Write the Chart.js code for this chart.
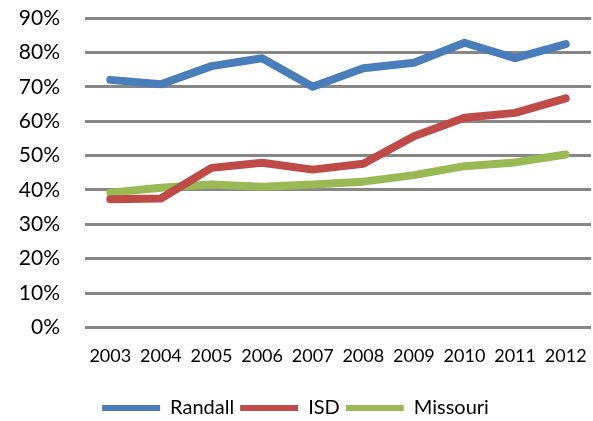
<!DOCTYPE html>
<html>
<head>
<meta charset="utf-8">
<script src="https://cdn.jsdelivr.net/npm/chart.js@4/dist/chart.umd.min.js"></script>
<style>
  html, body { margin: 0; padding: 0; background: #fff; }
  #wrap { width: 593px; height: 421px; position: relative; }
</style>
</head>
<body>
<div id="wrap"><canvas id="chart"></canvas></div>
<script>
const years = ["2003","2004","2005","2006","2007","2008","2009","2010","2011","2012"];
const randall = [72, 70.7, 76, 78.3, 70, 75.4, 77, 82.8, 78.3, 82.4];
const isd = [37.3, 37.5, 46.4, 47.9, 45.9, 47.6, 55.6, 61, 62.4, 66.6];
const missouri = [39.2, 40.6, 41.6, 40.9, 41.6, 42.4, 44.3, 46.9, 48, 50.3];

const blue = "#4A7EBB";
const red = "#BE4B48";
const green = "#98B954";
const font = "Lato, 'Open Sans', sans-serif";

function lineSet(label, data, color) {
  return {
    label: label,
    data: data,
    borderColor: color,
    backgroundColor: color,
    borderWidth: 8,
    pointRadius: 0,
    tension: 0,
    borderCapStyle: "round",
    borderJoinStyle: "round"
  };
}

const ctx = document.getElementById("chart");
new Chart(ctx, {
  type: "line",
  data: {
    labels: years,
    datasets: [
      lineSet("Randall", randall, blue),
      lineSet("ISD", isd, red),
      lineSet("Missouri", missouri, green)
    ]
  },
  options: {
    responsive: true,
    maintainAspectRatio: false,
    animation: false,
    layout: { padding: { left: 0, right: 2, top: 18, bottom: -7 } },
    plugins: {
      tooltip: { enabled: false },
      legend: {
        position: "bottom",
        labels: {
          boxWidth: 58,
          boxHeight: 6,
          padding: 6,
          color: "#000",
          font: { family: font, size: 20 },
          generateLabels: function (chart) {
            const items = Chart.defaults.plugins.legend.labels.generateLabels(chart);
            items.forEach(function (it) {
              it.lineWidth = 0;
              it.strokeStyle = it.fillStyle;
            });
            return items;
          }
        }
      }
    },
    scales: {
      x: {
        offset: true,
        afterFit: function (scale) {
          scale.height += 7;
          scale.paddingLeft = 0;
          scale.paddingRight = 0;
        },
        grid: { display: false, drawTicks: false },
        border: { display: false },
        ticks: {
          color: "#000",
          padding: 18,
          maxRotation: 0,
          autoSkip: false,
          font: { family: font, size: 18 }
        }
      },
      y: {
        min: 0,
        max: 90,
        afterFit: function (scale) {
          scale.width = 85;
          scale.paddingTop = 0;
          scale.paddingBottom = 0;
        },
        grid: { color: "#878787", lineWidth: 3, drawTicks: false },
        border: { display: false },
        ticks: {
          stepSize: 10,
          padding: 25,
          color: "#000",
          font: { family: font, size: 21 },
          callback: function (v) { return v + "%"; }
        }
      }
    }
  }
});
</script>
</body>
</html>
